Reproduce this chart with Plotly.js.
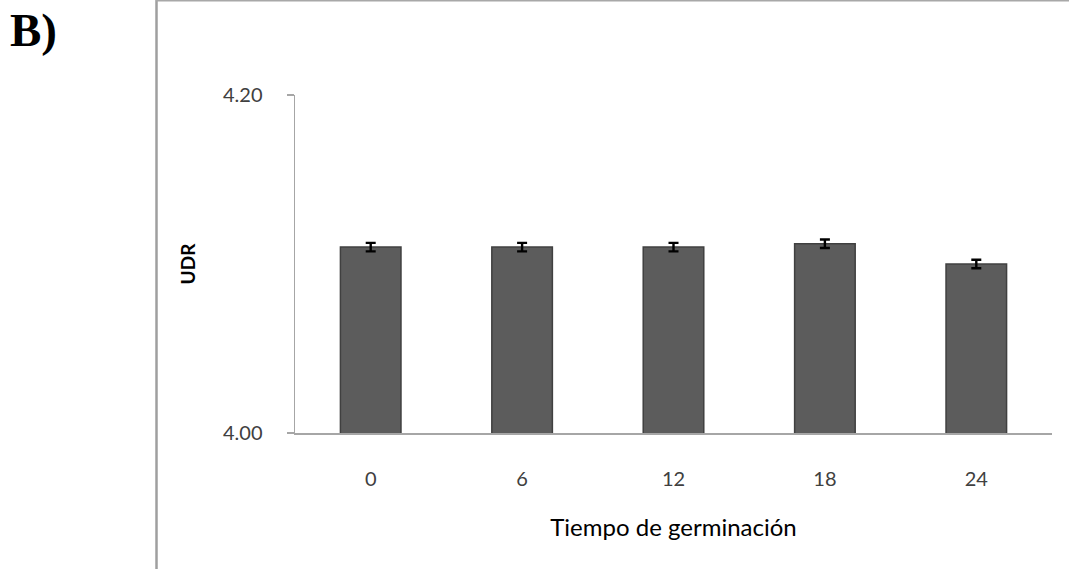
<!DOCTYPE html>
<html>
<head>
<meta charset="utf-8">
<script src="https://cdn.plot.ly/plotly-3.0.1.min.js"></script>
<style>
  html, body { margin: 0; padding: 0; background: #ffffff; }
  #chart { width: 1069px; height: 569px; }
</style>
</head>
<body>
<div id="chart"></div>
<script>
// Germination time (h) and UDR mean with its standard error
const tiempos = ['0', '6', '12', '18', '24'];
const udr = [4.110, 4.110, 4.110, 4.112, 4.100];
const errorUdr = [0.0025, 0.0025, 0.0025, 0.0025, 0.0025];
const yTicks = [4.00, 4.20];
const yTickLabels = ['4.00', '4.20'];

const plotLeft = 295, plotRight = 1052, plotTop = 95, plotBottom = 433;
const W = 1069, H = 569;
const pw = plotRight - plotLeft, ph = plotBottom - plotTop;
const px = x => (x - plotLeft) / pw;
const py = y => (plotBottom - y) / ph;

const bars = {
  type: 'bar',
  x: tiempos,
  y: udr,
  width: 0.4,
  marker: {
    color: '#5c5c5c',
    line: { color: '#404040', width: 1.5 }
  },
  error_y: {
    type: 'data',
    array: errorUdr,
    visible: true,
    color: '#000000',
    thickness: 2.4,
    width: 5
  },
  hoverinfo: 'x+y'
};

const layout = {
  width: W,
  height: H,
  margin: { l: plotLeft, r: W - plotRight, t: plotTop, b: H - plotBottom },
  paper_bgcolor: '#ffffff',
  plot_bgcolor: '#ffffff',
  showlegend: false,
  font: { family: 'Lato, "Open Sans", sans-serif', color: '#404040' },
  xaxis: {
    type: 'category',
    showline: true,
    linecolor: '#a6a6a6',
    linewidth: 1.5,
    ticks: '',
    showgrid: false,
    zeroline: false,
    tickfont: { size: 20, color: '#404040' },
    ticklabelstandoff: 27,
    title: {
      text: 'Tiempo de germinación',
      font: { size: 24, color: '#000000' },
      standoff: 30
    }
  },
  yaxis: {
    range: [4.0, 4.2],
    tickvals: yTicks,
    ticktext: yTickLabels,
    showline: true,
    linecolor: '#a6a6a6',
    linewidth: 1.5,
    ticks: 'outside',
    ticklen: 7,
    tickwidth: 1.5,
    tickcolor: '#a6a6a6',
    showgrid: false,
    zeroline: false,
    tickfont: { size: 20, color: '#404040' },
    ticklabelstandoff: 20,
    title: {
      text: '<b>UDR</b>',
      font: { size: 19, color: '#000000' },
      standoff: 22
    }
  },
  shapes: [
    {
      type: 'line', xref: 'paper', yref: 'paper',
      x0: px(156.5), x1: px(156.5), y0: py(H + 2), y1: py(0),
      line: { color: '#9f9f9f', width: 2.5 }
    },
    {
      type: 'line', xref: 'paper', yref: 'paper',
      x0: px(156), x1: px(W + 2), y0: py(0.5), y1: py(0.5),
      line: { color: '#a8a8a8', width: 2 }
    }
  ],
  annotations: [
    {
      text: '<b>B)</b>',
      xref: 'paper', yref: 'paper',
      x: px(8), y: py(2),
      xanchor: 'left', yanchor: 'top',
      showarrow: false,
      font: { family: '"Liberation Serif", "Times New Roman", serif', size: 47, color: '#000000' }
    }
  ]
};

Plotly.newPlot('chart', [bars], layout, { displayModeBar: false, staticPlot: true });
</script>
</body>
</html>
